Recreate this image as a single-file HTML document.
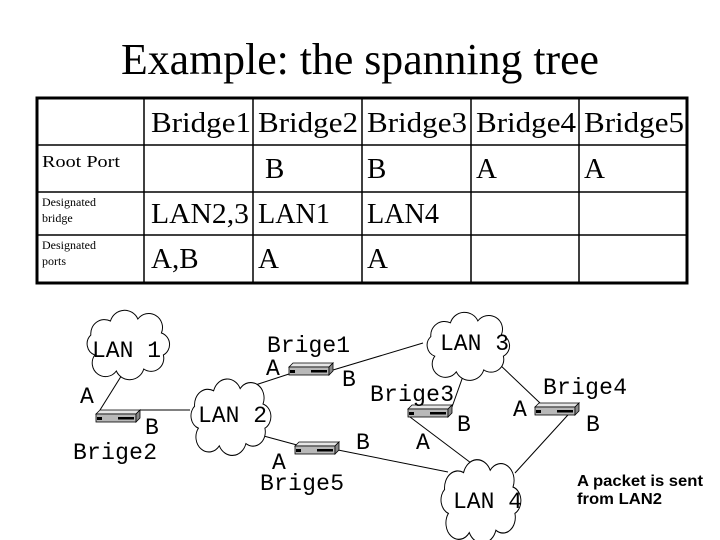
<!DOCTYPE html>
<html><head><meta charset="utf-8"><style>
html,body{margin:0;padding:0;background:#fff;}
svg{display:block;}
.s{font-family:"Liberation Serif",serif;fill:#000;}
.m{font-family:"Liberation Mono",monospace;fill:#000;font-size:23px;}
.a{font-family:"Liberation Sans",sans-serif;font-weight:bold;fill:#000;font-size:16px;}
</style></head><body>
<svg width="720" height="540" viewBox="0 0 720 540" xmlns="http://www.w3.org/2000/svg">
<defs>
<path id="cloud" d="M12,42 A12,12 0 0,1 8,22 A14,14 0 0,1 28,8 A15,15 0 0,1 56,6 A14,14 0 0,1 80,20 A12,12 0 0,1 82,42 A13,13 0 0,1 62,56 A15,15 0 0,1 34,58 A13,13 0 0,1 12,42 Z" fill="#fff" stroke="#000" stroke-width="1"/>
<g id="dev">
<polygon points="0,4 4,0 44,0 40,4" fill="#e6e6e6" stroke="#000" stroke-width="0.8"/>
<rect x="0" y="4" width="40" height="8" fill="#b8b8b8" stroke="#000" stroke-width="0.8"/>
<polygon points="40,4 44,0 44,8 40,12" fill="#888" stroke="#000" stroke-width="0.8"/>
<rect x="1" y="7" width="5" height="3" fill="#000"/>
<rect x="22" y="7" width="16" height="2.5" fill="#000"/>
</g>
</defs>
<text class="s" x="360" y="74" font-size="44" text-anchor="middle" textLength="478" lengthAdjust="spacingAndGlyphs">Example: the spanning tree</text>
<g stroke="#000" fill="none">
<rect x="37" y="98" width="650" height="185" stroke-width="3"/>
<g stroke-width="1.5">
<line x1="144" y1="98" x2="144" y2="283"/><line x1="253" y1="98" x2="253" y2="283"/>
<line x1="362" y1="98" x2="362" y2="283"/><line x1="471" y1="98" x2="471" y2="283"/>
<line x1="579" y1="98" x2="579" y2="283"/>
<line x1="37" y1="145" x2="687" y2="145"/><line x1="37" y1="192" x2="687" y2="192"/>
<line x1="37" y1="235" x2="687" y2="235"/>
</g></g>
<g class="s" font-size="29">
<text x="151" y="132" textLength="100" lengthAdjust="spacingAndGlyphs">Bridge1</text>
<text x="258" y="132" textLength="100" lengthAdjust="spacingAndGlyphs">Bridge2</text>
<text x="367" y="132" textLength="100" lengthAdjust="spacingAndGlyphs">Bridge3</text>
<text x="476" y="132" textLength="100" lengthAdjust="spacingAndGlyphs">Bridge4</text>
<text x="584" y="132" textLength="100" lengthAdjust="spacingAndGlyphs">Bridge5</text>
<text x="265" y="178">B</text><text x="367" y="178">B</text>
<text x="476" y="178">A</text><text x="584" y="178">A</text>
<text x="151" y="223" textLength="98" lengthAdjust="spacingAndGlyphs">LAN2,3</text>
<text x="258" y="223" textLength="72" lengthAdjust="spacingAndGlyphs">LAN1</text>
<text x="367" y="223" textLength="72" lengthAdjust="spacingAndGlyphs">LAN4</text>
<text x="151" y="268">A,B</text><text x="258" y="268">A</text><text x="367" y="268">A</text>
</g>
<text class="s" x="42" y="167" font-size="17" textLength="78" lengthAdjust="spacingAndGlyphs">Root Port</text>
<text class="s" x="42" y="206" font-size="12">Designated</text>
<text class="s" x="42" y="222" font-size="12">bridge</text>
<text class="s" x="42" y="249" font-size="12">Designated</text>
<text class="s" x="42" y="265" font-size="12">ports</text>
<g stroke="#000" stroke-width="1">
<line x1="125" y1="370" x2="100" y2="410"/>
<line x1="140" y1="410" x2="190" y2="410"/>
<line x1="240" y1="390" x2="289" y2="374"/>
<line x1="333" y1="370" x2="423" y2="343"/>
<line x1="260" y1="435" x2="297" y2="445"/>
<line x1="338" y1="450" x2="448" y2="472"/>
<line x1="467" y1="365" x2="452" y2="407"/>
<line x1="498" y1="363" x2="540" y2="403"/>
<line x1="410" y1="417" x2="475" y2="466"/>
<line x1="577" y1="405" x2="515" y2="473"/>
</g>
<use href="#cloud" transform="translate(83,313) scale(0.98,1)"/>
<use href="#cloud" transform="translate(187,382) scale(0.95,1.1)"/>
<use href="#cloud" transform="translate(423,315) scale(0.98,0.98)"/>
<use href="#cloud" transform="translate(437,463) scale(0.95,1.2)"/>
<use href="#dev" x="96" y="410"/>
<use href="#dev" x="289" y="363"/>
<use href="#dev" x="295" y="442"/>
<use href="#dev" x="408" y="405"/>
<use href="#dev" x="535" y="403"/>
<text class="m" x="92" y="357">LAN 1</text>
<text class="m" x="198" y="422">LAN 2</text>
<text class="m" x="440" y="350">LAN 3</text>
<text class="m" x="453" y="508">LAN 4</text>
<text class="m" x="267" y="352" textLength="83">Brige1</text>
<text class="m" x="266" y="375">A</text>
<text class="m" x="342" y="386">B</text>
<text class="m" x="80" y="403">A</text>
<text class="m" x="145" y="434">B</text>
<text class="m" x="73" y="459" textLength="84">Brige2</text>
<text class="m" x="272" y="469">A</text>
<text class="m" x="356" y="449">B</text>
<text class="m" x="260" y="490" textLength="84">Brige5</text>
<text class="m" x="370" y="401" textLength="84">Brige3</text>
<text class="m" x="457" y="431">B</text>
<text class="m" x="416" y="449">A</text>
<text class="m" x="543" y="394" textLength="84">Brige4</text>
<text class="m" x="513" y="416">A</text>
<text class="m" x="586" y="431">B</text>
<text class="a" x="577" y="486" textLength="126" lengthAdjust="spacingAndGlyphs">A packet is sent</text>
<text class="a" x="577" y="504" textLength="85" lengthAdjust="spacingAndGlyphs">from LAN2</text>
</svg>
</body></html>
